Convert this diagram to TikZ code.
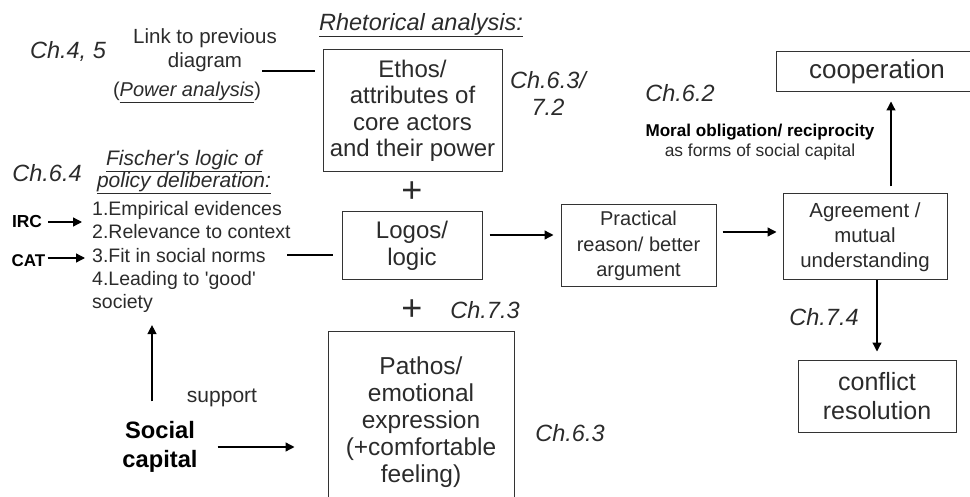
\documentclass[tikz,border=0pt]{standalone}
\usepackage{fontspec}
\setmainfont{Liberation Sans}
\usetikzlibrary{arrows.meta,calc}

\definecolor{ink}{HTML}{2B2B2B}
\definecolor{frame}{HTML}{333333}

\newcommand{\fsz}[2]{\fontsize{#1}{#2}\selectfont}

\tikzset{
  txt/.style={inner sep=0pt, text=ink, align=center},
  chap/.style={txt, font=\fsz{23.5}{27}\itshape},
  boxed/.style={draw=frame, line width=1pt, inner sep=0pt, text=ink, align=center},
  arr/.style={draw=black, line width=1.3pt, -{Triangle[length=9pt,width=9pt]}},
  plain/.style={draw=black, line width=1.3pt},
  plussign/.style={txt, font=\fsz{36}{36}}
}

\begin{document}
\begin{tikzpicture}[x=1pt,y=-1pt]
  \useasboundingbox (0,0) rectangle (970,497);

  % rhetorical triangle: ethos, logos, pathos
  \node[txt, font=\fsz{23.5}{27}\itshape] (rhet) at (421,25) {\underline{Rhetorical analysis:}};
  \node[boxed, minimum width=179pt, minimum height=122pt, font=\fsz{24}{26.5}] (ethos) at (412.5,111)
    {Ethos/\\attributes of\\core actors\\and their power};
  \node[plussign] (plusa) at (412,192) {+};
  \node[boxed, minimum width=140pt, minimum height=68pt, font=\fsz{24}{27}] (logos) at (412,246)
    {Logos/\\logic};
  \node[plussign] (plusb) at (412,310) {+};
  \node[boxed, minimum width=186pt, minimum height=180pt, font=\fsz{24.5}{27}] (pathos) at (421,422)
    {Pathos/\\emotional\\expression\\(+comfortable\\feeling)};

  % chapter references
  \node[chap] (chfourfive) at (68,51) {Ch.4, 5};
  \node[chap] (chethos) at (548,93) {Ch.6.3/\\7.2};
  \node[chap] (chlogos) at (485,310) {Ch.7.3};
  \node[chap] (chpathos) at (570,433) {Ch.6.3};
  \node[chap] (chmoral) at (680,93) {Ch.6.2};
  \node[chap] (chconflict) at (824,317) {Ch.7.4};
  \node[chap] (chfischer) at (47,173) {Ch.6.4};

  % link to the power analysis
  \node[txt, font=\fsz{20.5}{24}] (link) at (205,50) {Link to previous\\diagram};
  \node[txt, font=\fsz{20}{24}] (power) at (187,92) {(\underline{\textit{Power analysis}})};
  \coordinate (linkend) at (262,71);
  \draw[plain, shorten >=8pt] (linkend) -- (linkend -| ethos.west);

  % Fischer's logic of policy deliberation
  \node[txt, font=\fsz{21}{20}\itshape] (fischer) at (184,172)
    {\underline{Fischer\textquotesingle s logic of}\\\underline{policy deliberation:}};
  \node[txt, anchor=west, align=left, font=\fsz{19.5}{23.4}] (list) at (92,257)
    {1.Empirical evidences\\2.Relevance to context\\3.Fit in social norms\\4.Leading to \textquotesingle good\textquotesingle\\society};
  \node[txt, font=\fsz{17.4}{20}\bfseries, text=black] (irc) at (27,222) {IRC};
  \node[txt, font=\fsz{17}{20}\bfseries, text=black] (cat) at (28.5,261) {CAT};
  \draw[arr, shorten <=6pt, shorten >=10pt] (irc.east) -- (irc.east -| list.west);
  \draw[arr, shorten <=2pt, shorten >=7pt] ([yshift=3pt]cat.east) -- ([yshift=3pt]cat.east -| list.west);
  \coordinate (fitend) at (287,255);
  \draw[plain, shorten >=9pt] (fitend) -- (fitend -| logos.west);

  % social capital
  \node[txt, font=\fsz{23.7}{29}\bfseries, text=black] (sc) at (160,447) {Social\\capital};
  \node[txt, font=\fsz{21}{24}] (support) at (222,398) {support};
  \draw[arr, shorten <=20pt, shorten >=12pt] ([xshift=-8pt]sc.north) -- ([xshift=-8pt]sc.north |- list.south);
  \draw[arr, shorten <=20pt, shorten >=33pt] (sc.east) -- (sc.east -| pathos.west);

  % outcomes of deliberation
  \node[boxed, minimum width=155pt, minimum height=82pt, font=\fsz{20}{25.5}] (practical) at (638.5,246)
    {Practical\\reason/ better\\argument};
  \node[boxed, minimum width=164pt, minimum height=86pt, font=\fsz{20.4}{25}] (agree) at (865,237)
    {Agreement /\\mutual\\understanding};
  \node[boxed, minimum width=202pt, minimum height=40pt, font=\fsz{26}{30}] (coop) at (877,72)
    {cooperation};
  \node[boxed, minimum width=158pt, minimum height=72pt, font=\fsz{25}{29}] (conflict) at (877,396)
    {conflict\\resolution};
  \node[txt, font=\fsz{17.1}{20}\bfseries, text=black] (moral) at (760,132) {Moral obligation/ reciprocity};
  \node[txt, font=\fsz{17.4}{20}] (forms) at (760,152) {as forms of social capital};

  \draw[arr, shorten <=7pt, shorten >=7pt] ([yshift=11pt]logos.east) -- ([yshift=11pt]logos.east -| practical.west);
  \draw[arr, shorten <=6pt, shorten >=6pt] ([yshift=14pt]practical.east) -- ([yshift=14pt]practical.east -| agree.west);
  \draw[arr, shorten <=7pt, shorten >=9pt] ([xshift=26pt]agree.north) -- ([xshift=26pt]agree.north |- coop.south);
  \draw[arr, shorten >=8pt] ([xshift=12pt]agree.south) -- (conflict.north);
\end{tikzpicture}
\end{document}
